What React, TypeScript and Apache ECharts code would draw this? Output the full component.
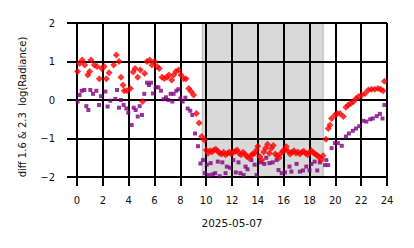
import React, { useEffect, useRef } from "react";
import * as echarts from "echarts";

const dateLabel = "2025-05-07";
const yAxisTitle = "diff 1.6 & 2.3  log(Radiance)";
const nightSpan: [number, number] = [9.7, 19.07];
const xTicks = { min: 0, max: 24, interval: 2 };
const yTicks = { min: -2, max: 2, interval: 1 };

// [hour, value]
const redPoints: [number, number][] = [
  [0.05, 0.74], [0.2, 0.95], [0.4, 1.04], [0.6, 0.91], [0.83, 0.65], [0.98, 0.74],
  [1.08, 1.04], [1.34, 0.91], [1.55, 0.87], [1.73, 0.55], [1.9, 0.82], [2.1, 0.87],
  [2.27, 0.55], [2.48, 0.71], [2.84, 0.91], [3.05, 1.17], [3.25, 1.0], [3.4, 0.59],
  [3.56, 0.39], [3.66, 0.24], [3.87, 0.24], [4.13, 0.3], [4.34, 0.73], [4.5, 0.82],
  [4.7, 0.59], [4.9, 0.78], [5.08, -0.04], [5.24, 0.69], [5.42, 1.0], [5.63, 1.04],
  [5.8, 0.91], [6.0, 1.0], [6.2, 0.87], [6.37, 0.82], [6.58, 0.59], [6.76, 0.56],
  [6.97, 0.59], [7.12, 0.65], [7.33, 0.52], [7.48, 0.65], [7.66, 0.74], [7.87, 0.78],
  [8.05, 0.65], [8.26, 0.55], [8.44, 0.55], [8.65, 0.3], [8.83, 0.22], [9.03, 0.13],
  [9.24, -0.35], [9.45, -0.6], [9.65, -0.95], [9.86, -1.04],
  [10.0, -1.3], [10.15, -1.38], [10.3, -1.32], [10.45, -1.35], [10.6, -1.3], [10.75, -1.28],
  [10.9, -1.33], [11.05, -1.38], [11.2, -1.4], [11.35, -1.36], [11.5, -1.42], [11.65, -1.38],
  [11.8, -1.35], [11.95, -1.4], [12.1, -1.36], [12.25, -1.33], [12.4, -1.3], [12.55, -1.38],
  [12.7, -1.42], [12.85, -1.36], [13.0, -1.4], [13.15, -1.47], [13.3, -1.5], [13.45, -1.45],
  [13.6, -1.4], [13.75, -1.38], [13.9, -1.3], [14.0, -1.2], [14.15, -1.47], [14.3, -1.56],
  [14.45, -1.35], [14.6, -1.25], [14.75, -1.15], [14.9, -1.38], [15.05, -1.25], [15.2, -1.18],
  [15.35, -1.4], [15.5, -1.45], [15.65, -1.5], [15.8, -1.38], [15.95, -1.32], [16.1, -1.3],
  [16.2, -1.21], [16.35, -1.33], [16.5, -1.4], [16.65, -1.36], [16.8, -1.32], [16.95, -1.38],
  [17.1, -1.35], [17.25, -1.4], [17.4, -1.36], [17.55, -1.33], [17.7, -1.38], [17.85, -1.42],
  [18.0, -1.36], [18.15, -1.32], [18.3, -1.37], [18.45, -1.4], [18.6, -1.44], [18.75, -1.48],
  [18.9, -1.56], [19.05, -1.45],
  [19.27, -1.02], [19.45, -0.74], [19.58, -0.65], [19.71, -0.48], [19.97, -0.39], [20.15, -0.35],
  [20.36, -0.35], [20.62, -0.43], [20.82, -0.19], [21.0, -0.13], [21.2, -0.09], [21.4, -0.04],
  [21.6, 0.04], [21.8, 0.09], [22.05, 0.13], [22.3, 0.17], [22.56, 0.26], [22.8, 0.28],
  [23.05, 0.28], [23.3, 0.3], [23.5, 0.28], [23.7, 0.24], [23.8, 0.49],
];

const purplePoints: [number, number][] = [
  [0.05, -0.04], [0.2, 0.13], [0.36, 0.24], [0.57, 0.26], [0.72, -0.16], [0.88, -0.26],
  [1.03, 0.26], [1.24, 0.16], [1.5, 0.24], [1.7, -0.13], [1.86, 0.1], [2.2, 0.22],
  [2.37, -0.17], [2.58, -0.02], [2.97, 0.03], [3.1, 0.26], [3.25, -0.2], [3.4, 0.0],
  [3.61, -0.13], [3.82, -0.22], [3.97, -0.33], [4.23, -0.65], [4.39, -0.2], [4.54, -0.26],
  [4.7, -0.43], [4.85, -0.16], [5.03, -0.39], [5.21, 0.16], [5.42, 0.45], [5.57, 0.39],
  [5.73, 0.45], [5.88, 0.17], [6.09, 0.33], [6.3, 0.33], [6.5, 0.24], [6.7, 0.02],
  [6.89, 0.07], [7.07, 0.0], [7.25, 0.16], [7.38, -0.04], [7.48, 0.16], [7.69, 0.24],
  [7.85, 0.28], [8.0, 0.04], [8.18, -0.04], [8.39, 0.06], [8.57, -0.22], [8.77, -0.28],
  [8.93, -0.39], [9.14, -0.87], [9.37, -1.2], [9.55, -1.65],
  [9.75, -1.56], [9.9, -1.9], [10.05, -1.68], [10.2, -1.95], [10.35, -1.64], [10.5, -1.93],
  [10.7, -1.9], [10.9, -1.6], [11.05, -1.98], [11.25, -1.62], [11.5, -1.9], [11.6, -1.73],
  [11.85, -1.76], [12.1, -1.56], [12.3, -1.88], [12.5, -1.62], [12.65, -1.9], [12.9, -1.95],
  [13.05, -1.73], [13.2, -1.8], [13.5, -1.56], [13.75, -1.68], [13.9, -1.95], [14.25, -1.62],
  [14.5, -1.66], [14.65, -1.5], [14.9, -1.64], [15.15, -1.62], [15.45, -1.56], [15.6, -1.82],
  [15.85, -1.9], [16.1, -1.88], [16.45, -1.73], [16.6, -1.86], [17.0, -1.66], [17.25, -1.86],
  [17.5, -1.83], [17.75, -1.73], [18.0, -1.83], [18.15, -1.66], [18.4, -1.6], [18.6, -1.83],
  [18.8, -1.62],
  [19.2, -1.69], [19.3, -1.56], [19.45, -1.69], [19.71, -1.25], [19.97, -1.12], [20.2, -1.12],
  [20.5, -1.19], [20.82, -0.95], [21.05, -0.87], [21.35, -0.8], [21.6, -0.74], [21.85, -0.68],
  [22.15, -0.54], [22.4, -0.56], [22.7, -0.5], [22.9, -0.48], [23.2, -0.42], [23.45, -0.36],
  [23.65, -0.48], [23.8, -0.13],
];

const FONT = "DejaVu Sans";
const DIAMOND = "path://M0,-1L1,0L0,1L-1,0Z";
const SQUARE = "path://M-1,-1L1,-1L1,1L-1,1Z";

export default function App() {
  const ref = useRef<HTMLDivElement>(null);
  useEffect(() => {
    if (!ref.current) return;
    const chart = echarts.init(ref.current, null, { renderer: "svg" });
    const minus = (v: number) => (v < 0 ? "\u2212" + Math.abs(v) : String(v));
    chart.setOption({
      animation: false,
      grid: { left: 77, right: 27, top: 23, bottom: 71 },
      xAxis: {
        type: "value",
        min: xTicks.min,
        max: xTicks.max,
        interval: xTicks.interval,
        name: dateLabel,
        nameLocation: "middle",
        nameGap: 40,
        nameTextStyle: { fontFamily: FONT, fontSize: 10.5, color: "#111" },
        axisLine: { show: true, onZero: false, lineStyle: { color: "#000", width: 2 } },
        axisTick: { show: true, length: 9, lineStyle: { color: "#000", width: 2 } },
        axisLabel: { fontFamily: FONT, fontSize: 10, color: "#111", margin: 18, formatter: minus },
        splitLine: { show: true, lineStyle: { color: "#000", width: 2 } },
      },
      yAxis: {
        type: "value",
        min: yTicks.min,
        max: yTicks.max,
        interval: yTicks.interval,
        name: yAxisTitle,
        nameLocation: "middle",
        nameRotate: 90,
        nameGap: 50,
        nameTextStyle: { fontFamily: FONT, fontSize: 10, color: "#111", padding: [0, 14, 0, 0] },
        axisLine: { show: true, onZero: false, lineStyle: { color: "#000", width: 2 } },
        axisTick: { show: true, length: 10, lineStyle: { color: "#000", width: 2 } },
        axisLabel: { fontFamily: FONT, fontSize: 10, color: "#111", margin: 22, formatter: minus },
        splitLine: { show: true, lineStyle: { color: "#000", width: 2 } },
      },
      series: [
        {
          type: "scatter",
          data: purplePoints,
          symbol: SQUARE,
          symbolSize: 4,
          itemStyle: { color: "#800080" },
        },
        {
          type: "scatter",
          data: redPoints,
          symbol: DIAMOND,
          symbolSize: 7,
          itemStyle: { color: "#ff0000" },
        },
        {
          type: "scatter",
          z: 8,
          data: [],
          markArea: {
            silent: true,
            itemStyle: {
              color: "rgba(0,0,0,0.15)",
              borderColor: "rgba(0,0,0,0.15)",
              borderWidth: 1.5,
            },
            data: [[{ xAxis: nightSpan[0] }, { xAxis: nightSpan[1] }]],
          },
        },
      ],
    });
    return () => chart.dispose();
  }, []);
  return <div ref={ref} style={{ width: 414, height: 248, position: "absolute", left: 0, top: 0 }} />;
}
